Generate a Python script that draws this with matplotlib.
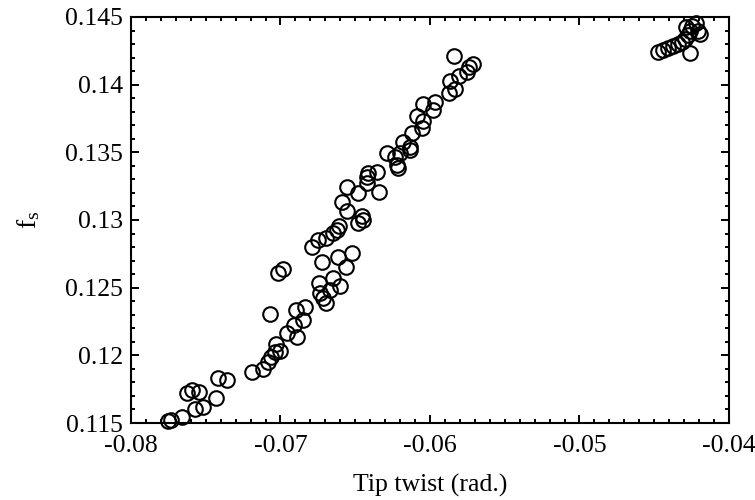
import numpy as np
import matplotlib.pyplot as plt
from matplotlib.ticker import MultipleLocator, FuncFormatter

# Tip twist (rad.) and shedding frequency f_s for each sample
tip_twist = [
    -0.07753, -0.07733, -0.07659, -0.07625, -0.07592, -0.07545, -0.07572, -0.07518,
    -0.07431, -0.07418, -0.07358, -0.07191, -0.07117, -0.07084, -0.07064, -0.07037,
    -0.07003, -0.07030, -0.06957, -0.06890, -0.07070, -0.06910, -0.06849, -0.06896,
    -0.06836, -0.07017, -0.06983, -0.06789, -0.06749, -0.06696, -0.06649, -0.06622,
    -0.06609, -0.06722, -0.06615, -0.06522, -0.06562, -0.06742, -0.06649, -0.06602,
    -0.06736, -0.06716, -0.06696, -0.06669, -0.06555, -0.06482, -0.06589, -0.06555,
    -0.06455, -0.06448, -0.06482, -0.06421, -0.06421, -0.06415, -0.06355, -0.06341,
    -0.06288, -0.06234, -0.06221, -0.06214, -0.06201, -0.06181, -0.06134, -0.06134,
    -0.06120, -0.06054, -0.06047, -0.06087, -0.06047, -0.05980, -0.05967, -0.05873,
    -0.05833, -0.05866, -0.05806, -0.05753, -0.05739, -0.05712, -0.05839,
    -0.04475, -0.04441, -0.04408, -0.04375, -0.04341, -0.04314, -0.04294, -0.04274,
    -0.04261, -0.04247, -0.04221, -0.04207, -0.04261, -0.04288, -0.04194,
]
f_s = [
    0.11515, 0.11522, 0.11544, 0.11722, 0.11744, 0.11729, 0.11603, 0.11618,
    0.11685, 0.11833, 0.11818, 0.11877, 0.11899, 0.11951, 0.11988, 0.12025,
    0.12032, 0.12084, 0.12165, 0.12135, 0.12305, 0.12224, 0.12261, 0.12335,
    0.12357, 0.12608, 0.12638, 0.12801, 0.12852, 0.12867, 0.12904, 0.12926,
    0.12956, 0.12690, 0.12727, 0.12756, 0.12653, 0.12535, 0.12571, 0.12512,
    0.12461, 0.12424, 0.12387, 0.12483, 0.13244, 0.13200, 0.13133, 0.13067,
    0.13030, 0.13000, 0.12978, 0.13273, 0.13318, 0.13347, 0.13355, 0.13207,
    0.13495, 0.13466, 0.13406, 0.13384, 0.13495, 0.13576, 0.13539, 0.13517,
    0.13643, 0.13680, 0.13732, 0.13769, 0.13857, 0.13813, 0.13872, 0.13938,
    0.13968, 0.14027, 0.14064, 0.14094, 0.14131, 0.14153, 0.14212,
    0.14241, 0.14256, 0.14271, 0.14286, 0.14301, 0.14315, 0.14338, 0.14367,
    0.14397, 0.14434, 0.14456, 0.14397, 0.14234, 0.14426, 0.14374,
]

plt.rcParams['font.family'] = 'Liberation Serif'
plt.rcParams['mathtext.fontset'] = 'custom'
plt.rcParams['mathtext.rm'] = 'Liberation Serif'
plt.rcParams['mathtext.it'] = 'Liberation Serif'
plt.rcParams['font.size'] = 18.5

fig = plt.figure(figsize=(7.55, 5), dpi=100)
ax = fig.add_axes([0.1735, 0.154, 0.792, 0.812])

ax.plot(tip_twist, f_s, linestyle='none', marker='o', markersize=10.5,
        markerfacecolor='none', markeredgecolor='black', markeredgewidth=1.5,
        clip_on=False)

ax.set_xlim(-0.08, -0.04)
ax.set_ylim(0.115, 0.145)
ax.xaxis.set_major_locator(MultipleLocator(0.01))
ax.xaxis.set_minor_locator(MultipleLocator(0.001))
ax.yaxis.set_major_locator(MultipleLocator(0.005))
ax.yaxis.set_minor_locator(MultipleLocator(0.001))
fmt = FuncFormatter(lambda v, pos: '%g' % round(v, 4))
ax.xaxis.set_major_formatter(fmt)
ax.yaxis.set_major_formatter(fmt)

ax.tick_params(which='both', direction='in', top=True, right=True, width=1.4)
ax.tick_params(which='major', length=6)
ax.tick_params(which='minor', length=3)
ax.tick_params(axis='x', which='major', pad=9)
ax.tick_params(axis='y', which='major', pad=6)
for sp in ax.spines.values():
    sp.set_linewidth(1.5)

ax.set_xlabel('Tip twist (rad.)', labelpad=12)
ax.set_ylabel(r'$\mathrm{f_s}$', labelpad=16, fontsize=20)

fig.savefig('out.png', dpi=100)
